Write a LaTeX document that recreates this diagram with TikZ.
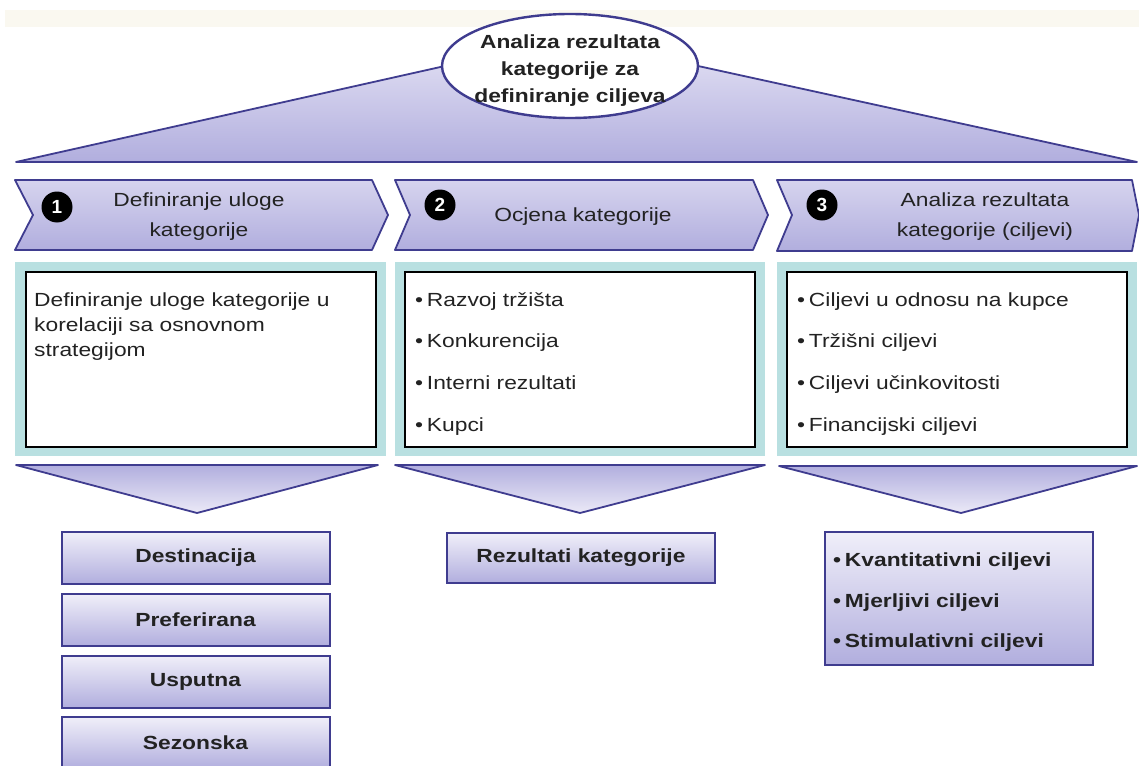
\documentclass[tikz,border=0pt]{standalone}
\usepackage{fontspec}
\setmainfont{Liberation Sans}
\usetikzlibrary{shapes.geometric}
\definecolor{edgec}{HTML}{3F3C8F}
\definecolor{lavtop}{HTML}{E6E4F5}
\definecolor{lavbot}{HTML}{B1AEDE}
\definecolor{tealc}{HTML}{B9E0E1}
\definecolor{ink}{HTML}{222222}
\definecolor{band}{HTML}{FAF8F0}
\newcommand\stretchx[1]{\scalebox{1.2}[1]{#1}}
\begin{document}
\begin{tikzpicture}[x=1pt,y=-1pt,
  lavshape/.style={draw=edgec, line width=1.8pt, top color=lavtop, bottom color=lavbot, line join=round},
  chevshape/.style={draw=edgec, line width=1.8pt, top color=lavtop!70!lavbot, bottom color=lavbot, line join=round},
  downshape/.style={draw=edgec, line width=1.8pt, top color=lavbot, bottom color=lavtop!80!white, line join=round},
  panelc/.style={fill=tealc, draw=none},
  innerbox/.style={draw=black, line width=2.6pt, fill=white},
  btmbox/.style={draw=edgec, line width=2pt, top color=lavtop!60!white, bottom color=lavbot, inner sep=0, minimum width=268},
  lbl/.style={text=ink, font=\fontsize{19}{30}\selectfont, inner sep=0, align=center},
  blbl/.style={text=ink, font=\bfseries\fontsize{19}{27}\selectfont, inner sep=0, align=center},
  item/.style={text=ink, font=\fontsize{19}{25}\selectfont, inner sep=0, anchor=base west},
  bitem/.style={text=ink, font=\bfseries\fontsize{19}{25}\selectfont, inner sep=0, anchor=base west},
  numc/.style={circle, fill=black, text=white, font=\bfseries\fontsize{19}{19}\selectfont, minimum size=31, inner sep=0}
]
\useasboundingbox (0,0) rectangle (1139,765);
\fill[white] (0,0) rectangle (1139,765);
\fill[band] (5,10) rectangle (1139,27);

% top triangle and ellipse
\path[lavshape] (16,162) -- (570,38) -- (1137,162) -- cycle;
\node[ellipse, draw=edgec, line width=2.4pt, fill=white, minimum width=256, minimum height=104, inner sep=0] (topell) at (570,66) {};
\node[blbl] (toptxt) at (570,71) {\stretchx{Analiza rezultata}\\\stretchx{kategorije za}\\\stretchx{definiranje ciljeva}};

% chevrons
\path[chevshape] (15,180) -- (372,180) -- (388,215) -- (372,250) -- (15,250) -- (33,215) -- cycle;
\path[chevshape] (395,180) -- (753,180) -- (768,215) -- (753,250) -- (395,250) -- (410,215) -- cycle;
\path[chevshape] (777,180) -- (1132,180) -- (1139,215) -- (1132,251) -- (777,251) -- (792,215) -- cycle;
\node[numc] (n1) at (57,207) {1};
\node[numc] (n2) at (440,205) {2};
\node[numc] (n3) at (822,205) {3};
\node[lbl] (h1) at (199,217) {\stretchx{Definiranje uloge}\\\stretchx{kategorije}};
\node[lbl] (h2) at (583,217) {\stretchx{Ocjena kategorije}};
\node[lbl] (h3) at (985,217) {\stretchx{Analiza rezultata}\\\stretchx{kategorije (ciljevi)}};

% panels
\path[panelc] (15,262) rectangle (386,456);
\path[panelc] (395,262) rectangle (765,456);
\path[panelc] (777,262) rectangle (1137,456);
\path[innerbox] (26,272) rectangle (376,447);
\path[innerbox] (405,272) rectangle (755,447);
\path[innerbox] (787,272) rectangle (1127,447);

\node[item] (p1a) at (34,306) {\stretchx{Definiranje uloge kategorije u}};
\node[item] (p1b) at (34,331) {\stretchx{korelaciji sa osnovnom}};
\node[item] (p1c) at (34,356) {\stretchx{strategijom}};

\node[item] (p2a) at (415,306) {\stretchx{•\,Razvoj tržišta}};
\node[item] (p2b) at (415,347.5) {\stretchx{•\,Konkurencija}};
\node[item] (p2c) at (415,389) {\stretchx{•\,Interni rezultati}};
\node[item] (p2d) at (415,431) {\stretchx{•\,Kupci}};

\node[item] (p3a) at (797,306) {\stretchx{•\,Ciljevi u odnosu na kupce}};
\node[item] (p3b) at (797,347.5) {\stretchx{•\,Tržišni ciljevi}};
\node[item] (p3c) at (797,389) {\stretchx{•\,Ciljevi učinkovitosti}};
\node[item] (p3d) at (797,431) {\stretchx{•\,Financijski ciljevi}};

% down arrows
\path[downshape] (16,465) -- (378,465) -- (197,513) -- cycle;
\path[downshape] (395,465) -- (765,465) -- (580,513) -- cycle;
\path[downshape] (779,466) -- (1137,466) -- (961,513) -- cycle;

% bottom boxes
\node[btmbox, minimum height=52] (b1) at (195.5,558) {};
\node[btmbox, minimum height=52] (b2) at (195.5,620) {};
\node[btmbox, minimum height=52] (b3) at (195.5,681.5) {};
\node[btmbox, minimum height=52] (b4) at (195.5,743) {};
\node[blbl] at (b1) {\stretchx{Destinacija}};
\node[blbl] at (b2) {\stretchx{Preferirana}};
\node[blbl] at (b3) {\stretchx{Usputna}};
\node[blbl] at (b4) {\stretchx{Sezonska}};

\node[btmbox, minimum height=50] (rk) at (581,558) {};
\node[blbl] at (rk) {\stretchx{Rezultati kategorije}};

\node[btmbox, minimum height=133] (cb) at (959,598.5) {};
\node[bitem] (c1) at (833,566) {\stretchx{•\,Kvantitativni ciljevi}};
\node[bitem] (c2) at (833,607) {\stretchx{•\,Mjerljivi ciljevi}};
\node[bitem] (c3) at (833,647) {\stretchx{•\,Stimulativni ciljevi}};
\end{tikzpicture}
\end{document}
